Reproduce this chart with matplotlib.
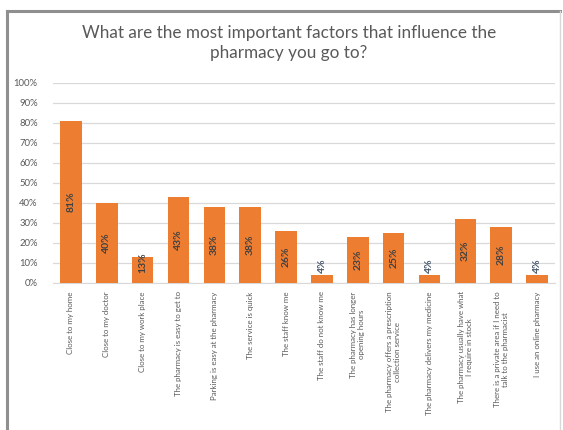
import matplotlib.pyplot as plt
from matplotlib.lines import Line2D
import numpy as np

# datos
factores = [
    'Close to my home',
    'Close to my doctor',
    'Close to my work place',
    'The pharmacy is easy to get to',
    'Parking is easy at the pharmacy',
    'The service is quick',
    'The staff know me',
    'The staff do not know me',
    'The pharmacy has longer\nopening hours',
    'The pharmacy offers a prescription\ncollection service',
    'The pharmacy delivers my medicine',
    'The pharmacy usually have what\nI require in stock',
    'There is a private area if I need to\ntalk to the pharmacist',
    'I use an online pharmacy',
]
valores = [81, 40, 13, 43, 38, 38, 26, 4, 23, 25, 4, 32, 28, 4]
yticks = [0, 10, 20, 30, 40, 50, 60, 70, 80, 90, 100]

FONT = ['Lato', 'DejaVu Sans']
NARANJA = '#ED7D31'
GRIS_TXT = '#595959'

plt.rcParams['font.family'] = FONT

fig = plt.figure(figsize=(5.63, 4.30), dpi=100)
fig.patch.set_facecolor('white')

# marco del grafico
fig.add_artist(Line2D([7/563, 7/563], [0, 1 - 11/430], color='#8f8f8f', lw=2.2,
                      transform=fig.transFigure))
fig.add_artist(Line2D([7/563, 560/563], [1 - 11/430, 1 - 11/430], color='#8f8f8f', lw=2.2,
                      transform=fig.transFigure))
fig.add_artist(Line2D([560/563, 560/563], [0, 1 - 11/430], color='#d9d9d9', lw=1,
                      transform=fig.transFigure))

ax = fig.add_axes([53/563, 1 - 283/430, 502/563, 200/430])
x = np.arange(len(valores))
ax.bar(x, valores, width=0.6, color=NARANJA, zorder=3)

for i, v in enumerate(valores):
    if v >= 10:
        y = max(v / 2, 10)
        ax.text(i, y, f'{v}%', rotation=90, ha='center', va='center',
                fontsize=7.5, fontweight='bold', color='#404040', zorder=4)
    else:
        ax.text(i, v + 1, f'{v}%', rotation=90, ha='center', va='bottom',
                fontsize=7.5, fontweight='bold', color='#44546A', zorder=4)

ax.set_xlim(-0.5, len(valores) - 0.5)
ax.set_ylim(0, 100)
ax.set_yticks(yticks)
ax.set_yticklabels([f'{t}%' for t in yticks], fontsize=6.8, color=GRIS_TXT)
ax.set_xticks(x)
ax.set_xticklabels(factores, rotation=90, fontsize=5.7, color=GRIS_TXT,
                   ha='center', va='top', multialignment='center')
ax.tick_params(axis='both', length=0)
ax.tick_params(axis='y', pad=11)
ax.tick_params(axis='x', pad=6)
ax.grid(axis='y', color='#d9d9d9', lw=0.9, zorder=0)
for s in ['top', 'right', 'left']:
    ax.spines[s].set_visible(False)
ax.spines['bottom'].set_color('#d9d9d9')

fig.text(289/563, 1 - 43/430,
         'What are the most important factors that influence the\npharmacy you go to?',
         ha='center', va='center', fontsize=12.3, color=GRIS_TXT, linespacing=1.3)

fig.savefig('out.png', dpi=100, facecolor='white')
